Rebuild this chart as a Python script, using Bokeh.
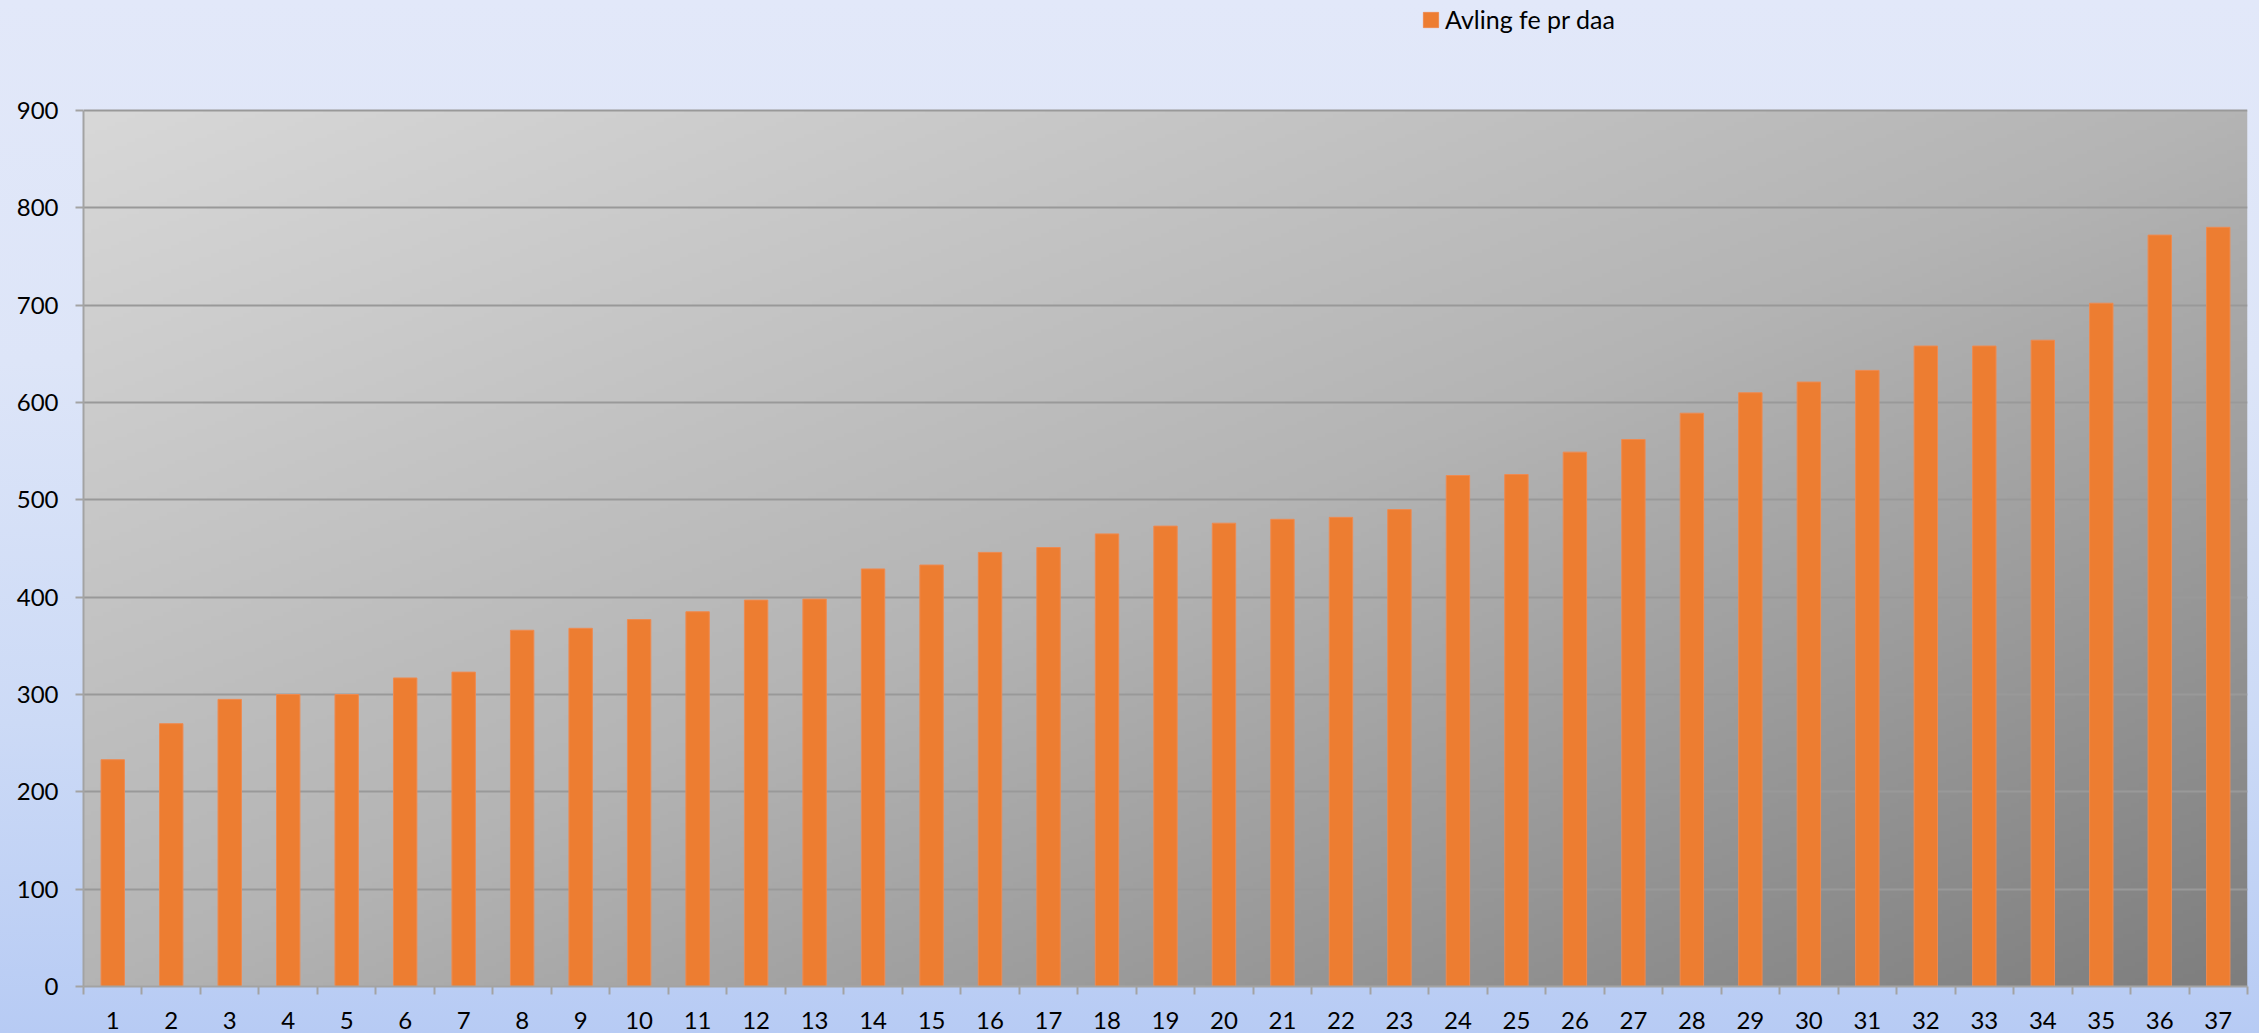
import numpy as np
from bokeh.plotting import figure
from bokeh.models import Range1d, FixedTicker, Legend, LegendItem, ColumnDataSource, GlobalInlineStyleSheet
from bokeh.embed import file_html
from bokeh.resources import INLINE

categories = [1, 2, 3, 4, 5, 6, 7, 8, 9, 10, 11, 12, 13, 14, 15, 16, 17, 18, 19,
              20, 21, 22, 23, 24, 25, 26, 27, 28, 29, 30, 31, 32, 33, 34, 35, 36, 37]
values = [233, 270, 295, 300, 300, 317, 323, 366, 368, 377, 385, 397, 398, 429, 433,
          446, 451, 465, 473, 476, 480, 482, 490, 525, 526, 549, 562, 589, 610, 621,
          633, 658, 658, 664, 702, 772, 780]
y_ticks = [0, 100, 200, 300, 400, 500, 600, 700, 800, 900]
series_name = "Avling fe pr daa"

FONT = "Lato"
AXIS_GRAY = "#A3A3A3"

page_css = GlobalInlineStyleSheet(css="""
html, body { background: linear-gradient(to bottom, #E2E8F9 0%, #DDE5F8 35%, #CCDAF6 70%, #B7CBF4 100%) !important; }
""")

W_FIG, H_FIG = 2259, 1033
BORDER_BOTTOM = 47
FRAME_TOP_OF_900 = 110  # pixels from the top where the 900 line sits
frame_h = H_FIG - BORDER_BOTTOM
y_end = y_ticks[-1] * frame_h / (frame_h - FRAME_TOP_OF_900)

p = figure(width=W_FIG, height=H_FIG, output_backend="svg", toolbar_location=None,
           x_range=Range1d(0.5, 37.5), y_range=Range1d(0, y_end),
           min_border_left=83, min_border_right=12, min_border_top=0,
           min_border_bottom=BORDER_BOTTOM)
p.stylesheets = [page_css]
p.border_fill_color = None
p.background_fill_color = None
p.outline_line_color = None

# plot-area diagonal gradient (background styling)
H, W = 220, 540
yy, xx = np.mgrid[0:H, 0:W]
t = (xx / (W - 1) + (H - 1 - yy) / (H - 1)) / 2.0
g = np.interp(t, [0.0, 0.5, 1.0], [216.0, 180.0, 126.0]).astype(np.uint32)
img = (255 << 24) | (g << 16) | (g << 8) | g
p.image_rgba(image=[img], x=0.5, y=0, dw=37, dh=y_ticks[-1], level="image")

src = ColumnDataSource(dict(x=categories, top=values))
bars = p.vbar(x="x", top="top", width=0.4, bottom=0, source=src,
              fill_color="#ED7D31", line_color="#EF8A50", line_width=1)

legend = Legend(items=[LegendItem(label=series_name, renderers=[bars])],
                location=(1338, 952), orientation="horizontal",
                padding=0, margin=0, spacing=0, label_standoff=5,
                glyph_width=19, glyph_height=19,
                border_line_color=None, background_fill_alpha=0,
                label_text_font=FONT, label_text_font_size="25px", label_text_color="#000000")
p.add_layout(legend, "center")

p.ygrid.grid_line_color = "#999999"
p.ygrid.grid_line_width = 2
p.xgrid.visible = False

p.yaxis.ticker = FixedTicker(ticks=y_ticks)
p.yaxis.bounds = (0, y_ticks[-1])
p.yaxis.axis_line_color = AXIS_GRAY
p.yaxis.axis_line_width = 2
p.yaxis.major_tick_out = 8
p.yaxis.major_tick_in = 0
p.yaxis.major_tick_line_color = AXIS_GRAY
p.yaxis.major_tick_line_width = 2
p.yaxis.minor_tick_out = 0
p.yaxis.minor_tick_in = 0
p.yaxis.major_label_standoff = 17
p.yaxis.major_label_text_font = FONT
p.yaxis.major_label_text_font_size = "24px"
p.yaxis.major_label_text_color = "#000000"

boundaries = [c - 0.5 for c in categories] + [categories[-1] + 0.5]
p.xaxis.ticker = FixedTicker(ticks=categories, minor_ticks=boundaries)
p.xaxis.axis_line_color = AXIS_GRAY
p.xaxis.axis_line_width = 2
p.xaxis.major_tick_out = 0
p.xaxis.major_tick_in = 0
p.xaxis.minor_tick_out = 8
p.xaxis.minor_tick_in = 0
p.xaxis.minor_tick_line_color = AXIS_GRAY
p.xaxis.minor_tick_line_width = 2
p.xaxis.major_label_standoff = 17
p.xaxis.major_label_text_font = FONT
p.xaxis.major_label_text_font_size = "24px"
p.xaxis.major_label_text_color = "#000000"

open("out.html", "w").write(file_html(p, INLINE))
